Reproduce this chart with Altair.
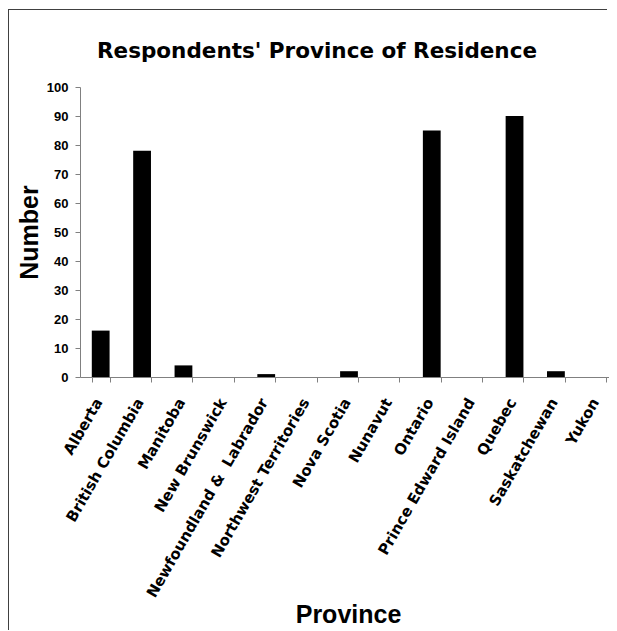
import altair as alt
import pandas as pd

provinces = ["Alberta", "British Columbia", "Manitoba", "New Brunswick",
             "Newfoundland &\u00a0 Labrador", "Northwest Territories", "Nova Scotia",
             "Nunavut", "Ontario", "Prince Edward Island", "Quebec", "Saskatchewan", "Yukon"]
counts = [16, 78, 4, 0, 1, 0, 2, 0, 85, 0, 90, 2, 0]
y_ticks = [0, 10, 20, 30, 40, 50, 60, 70, 80, 90, 100]
chart_title = "Respondents' Province of Residence"

df = pd.DataFrame({"Province": provinces, "Number": counts})

bars = alt.Chart(df).mark_bar(color="black").encode(
    x=alt.X("Province:N", sort=provinces,
            scale=alt.Scale(paddingInner=0.57, paddingOuter=0.285),
            axis=alt.Axis(title="Province", labelAngle=300, labelAlign="right",
                          labelBaseline="middle", labelFont="DejaVu Sans",
                          labelFontWeight="bold", labelFontSize=15, labelColor="black",
                          labelPadding=17, labelOffset=-2.5, labelLimit=300,
                          tickBand="extent", tickSize=5, tickColor="#808080",
                          domainColor="#808080", grid=False,
                          titleFont="Liberation Sans", titleFontSize=25,
                          titleFontWeight="bold", titleColor="black",
                          titleX=268, titleY=245, titleAlign="center",
                          titleBaseline="alphabetic")),
    y=alt.Y("Number:Q", scale=alt.Scale(domain=[0, 100], nice=False),
            axis=alt.Axis(title="Number", values=y_ticks, labelFont="Liberation Sans",
                          labelFontWeight="bold", labelFontSize=13, labelColor="black",
                          labelPadding=7, tickSize=5, tickColor="#808080",
                          domainColor="#808080", grid=False,
                          titleFont="Liberation Sans", titleFontSize=25,
                          titleFontWeight="bold", titleColor="black",
                          titleAngle=270, titleX=-43, titleY=145, titleAlign="center",
                          titleBaseline="alphabetic"))
)

title_layer = alt.Chart(alt.Data(values=[{"t": chart_title}])).mark_text(
    font="DejaVu Sans", fontWeight="bold", fontSize=21.5, align="center",
    baseline="alphabetic", color="black"
).encode(text="t:N", x=alt.value(237), y=alt.value(-29))

frame_top = alt.Chart(alt.Data(values=[{"f": 1}])).mark_rect(
    fill="#404040", strokeWidth=0
).encode(x=alt.value(-72), x2=alt.value(527), y=alt.value(-78), y2=alt.value(-77))

frame_left = alt.Chart(alt.Data(values=[{"f": 1}])).mark_rect(
    fill="#404040", strokeWidth=0
).encode(x=alt.value(-72), x2=alt.value(-71), y=alt.value(-78), y2=alt.value(543))

chart = alt.layer(frame_top, frame_left, bars, title_layer).properties(
    width=538, height=290,
    padding={"left": 72, "top": 79, "right": -9, "bottom": 262},
    autosize=alt.AutoSizeParams(type="none"),
).configure_view(stroke="transparent")

chart.save("out.html", embed_options={"renderer": "svg", "actions": False})
